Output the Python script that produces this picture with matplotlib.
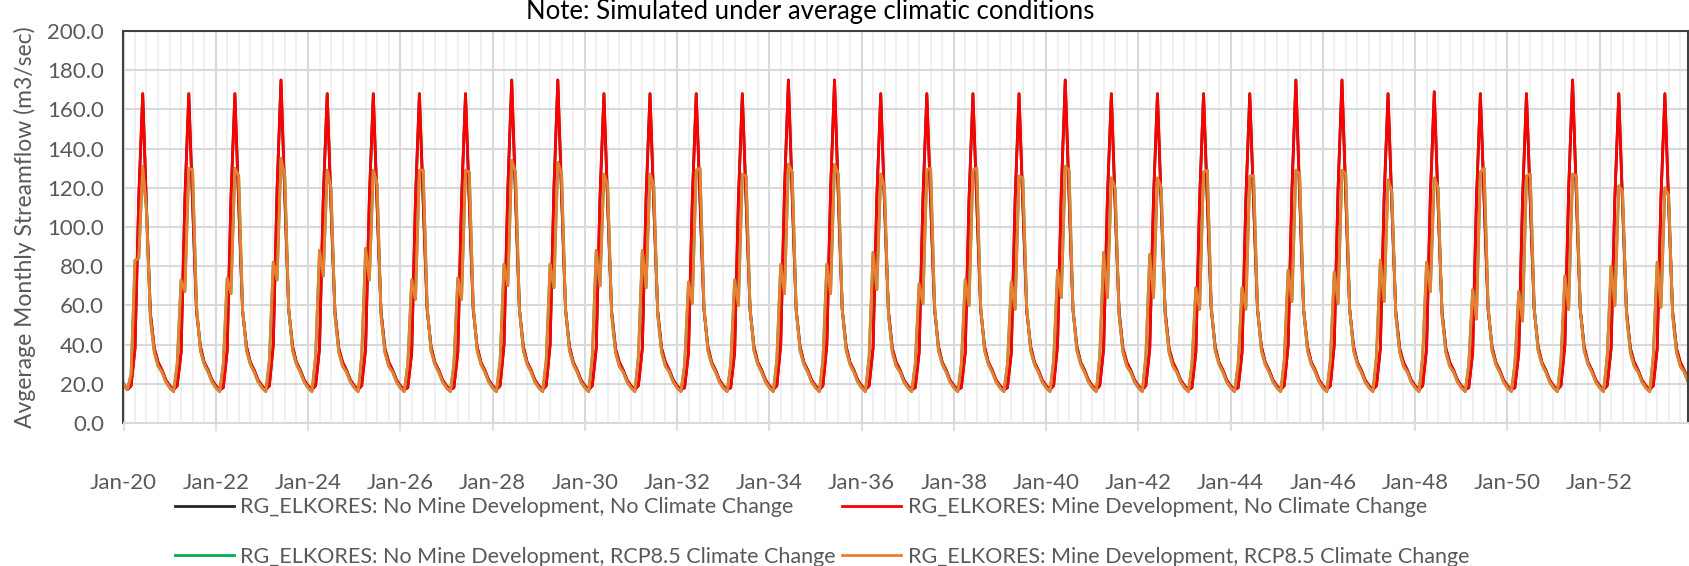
import numpy as np
import pandas as pd
import matplotlib
matplotlib.use("Agg")
import matplotlib.pyplot as plt
import matplotlib.dates as mdates
from matplotlib.ticker import FormatStrFormatter, MultipleLocator

plt.rcParams['font.family'] = ['Lato', 'DejaVu Sans']

# monthly streamflow (m3/sec), one row per year 2020-2053, Jan..Dec
years = list(range(2020, 2054))

mine_no_cc = [
    [20, 17, 19, 38, 115, 168, 110, 56, 38, 31, 27, 22],  # 2020
    [19, 17, 19, 36, 114, 168, 112, 57, 39, 31, 27, 22],  # 2021
    [19, 17, 18, 37, 115, 168, 112, 57, 39, 31, 27, 22],  # 2022
    [19, 17, 19, 40, 119, 175, 116, 58, 39, 31, 27, 22],  # 2023
    [19, 17, 19, 38, 115, 168, 111, 57, 38, 31, 27, 22],  # 2024
    [19, 17, 19, 38, 115, 168, 111, 57, 38, 31, 27, 22],  # 2025
    [19, 17, 18, 36, 114, 168, 113, 58, 39, 31, 27, 22],  # 2026
    [19, 17, 18, 36, 114, 168, 113, 58, 39, 31, 27, 22],  # 2027
    [19, 17, 19, 40, 119, 175, 116, 58, 39, 31, 27, 22],  # 2028
    [19, 17, 19, 40, 119, 175, 116, 58, 39, 31, 27, 22],  # 2029
    [19, 17, 19, 38, 115, 168, 111, 57, 38, 31, 27, 22],  # 2030
    [19, 17, 19, 38, 115, 168, 111, 57, 38, 31, 27, 22],  # 2031
    [19, 17, 18, 36, 114, 168, 113, 58, 39, 31, 27, 22],  # 2032
    [19, 17, 18, 36, 114, 168, 113, 58, 39, 31, 27, 22],  # 2033
    [19, 17, 19, 40, 119, 175, 116, 58, 39, 31, 27, 22],  # 2034
    [19, 17, 19, 40, 119, 175, 116, 58, 39, 31, 27, 22],  # 2035
    [19, 17, 19, 38, 115, 168, 111, 57, 38, 31, 27, 22],  # 2036
    [19, 17, 18, 36, 114, 168, 113, 58, 39, 31, 27, 22],  # 2037
    [19, 17, 18, 36, 114, 168, 113, 58, 39, 31, 27, 22],  # 2038
    [19, 17, 18, 36, 114, 168, 112, 57, 39, 31, 27, 22],  # 2039
    [19, 17, 19, 40, 119, 175, 116, 58, 39, 31, 27, 22],  # 2040
    [19, 17, 19, 38, 115, 168, 111, 57, 38, 31, 27, 22],  # 2041
    [19, 17, 19, 38, 115, 168, 111, 57, 38, 31, 27, 22],  # 2042
    [19, 17, 18, 36, 114, 168, 113, 58, 39, 31, 27, 22],  # 2043
    [19, 17, 18, 36, 114, 168, 113, 58, 39, 31, 27, 22],  # 2044
    [19, 17, 19, 40, 119, 175, 116, 58, 39, 31, 27, 22],  # 2045
    [19, 17, 19, 40, 119, 175, 116, 58, 39, 31, 27, 22],  # 2046
    [19, 17, 19, 38, 115, 168, 111, 57, 38, 31, 27, 22],  # 2047
    [19, 17, 19, 38, 116, 169, 112, 57, 38, 31, 27, 22],  # 2048
    [19, 17, 18, 36, 114, 168, 113, 58, 39, 31, 27, 22],  # 2049
    [19, 17, 18, 36, 114, 168, 113, 58, 39, 31, 27, 22],  # 2050
    [19, 17, 19, 40, 119, 175, 116, 58, 39, 31, 27, 22],  # 2051
    [19, 17, 19, 38, 115, 168, 111, 57, 38, 31, 27, 22],  # 2052
    [19, 17, 19, 38, 115, 168, 111, 57, 38, 31, 27, 22],  # 2053
]

mine_rcp85 = [
    [20, 17, 25, 83, 84, 131, 108, 53, 36, 29, 26, 21],  # 2020
    [18, 16, 30, 73, 67, 130, 129, 60, 37, 30, 26, 21],  # 2021
    [18, 16, 30, 74, 66, 130, 126, 58, 37, 30, 26, 21],  # 2022
    [18, 16, 32, 82, 73, 135, 126, 58, 37, 30, 26, 21],  # 2023
    [18, 16, 34, 88, 75, 129, 120, 55, 36, 29, 26, 21],  # 2024
    [18, 16, 34, 89, 73, 129, 122, 55, 36, 29, 26, 21],  # 2025
    [18, 16, 30, 73, 63, 129, 129, 60, 37, 30, 26, 21],  # 2026
    [18, 16, 30, 74, 63, 129, 128, 60, 37, 30, 26, 21],  # 2027
    [18, 16, 32, 81, 70, 134, 128, 58, 37, 30, 26, 21],  # 2028
    [18, 16, 32, 81, 69, 133, 127, 58, 37, 30, 26, 21],  # 2029
    [18, 16, 34, 88, 70, 127, 121, 55, 36, 29, 26, 21],  # 2030
    [18, 16, 34, 88, 69, 127, 121, 55, 36, 29, 26, 21],  # 2031
    [18, 16, 30, 72, 61, 129, 130, 60, 37, 30, 26, 21],  # 2032
    [18, 16, 30, 73, 60, 127, 126, 59, 37, 30, 26, 21],  # 2033
    [18, 16, 32, 81, 66, 132, 128, 58, 37, 30, 26, 21],  # 2034
    [18, 16, 32, 81, 66, 132, 127, 58, 37, 30, 26, 21],  # 2035
    [18, 16, 34, 87, 68, 127, 120, 55, 36, 29, 26, 21],  # 2036
    [18, 16, 30, 71, 61, 129, 130, 60, 37, 30, 26, 21],  # 2037
    [18, 16, 30, 73, 60, 129, 130, 60, 37, 30, 26, 21],  # 2038
    [18, 16, 30, 72, 58, 126, 125, 59, 37, 30, 26, 21],  # 2039
    [18, 16, 32, 78, 64, 131, 129, 58, 37, 30, 26, 21],  # 2040
    [18, 16, 34, 87, 64, 125, 120, 55, 36, 29, 26, 21],  # 2041
    [18, 16, 34, 86, 64, 125, 120, 55, 36, 29, 26, 21],  # 2042
    [18, 16, 30, 69, 58, 128, 129, 60, 37, 30, 26, 21],  # 2043
    [18, 16, 30, 69, 58, 126, 126, 59, 37, 30, 26, 21],  # 2044
    [18, 16, 32, 78, 62, 129, 127, 58, 37, 30, 26, 21],  # 2045
    [18, 16, 32, 77, 61, 129, 127, 58, 37, 30, 26, 21],  # 2046
    [18, 16, 34, 83, 62, 124, 118, 55, 36, 29, 26, 21],  # 2047
    [18, 16, 34, 82, 67, 125, 120, 55, 36, 29, 26, 21],  # 2048
    [18, 16, 30, 68, 53, 128, 130, 60, 37, 30, 26, 21],  # 2049
    [18, 16, 30, 67, 52, 126, 127, 59, 37, 30, 26, 21],  # 2050
    [18, 16, 32, 75, 58, 127, 126, 58, 37, 30, 26, 21],  # 2051
    [18, 16, 34, 80, 60, 121, 118, 55, 36, 29, 26, 21],  # 2052
    [18, 16, 34, 82, 59, 120, 116, 55, 36, 29, 26, 21],  # 2053
]

# the no-mine runs sit right underneath the mine runs in the picture
no_mine_no_cc = [row[:] for row in mine_no_cc]
no_mine_rcp85 = [row[:] for row in mine_rcp85]

labels = [
    "RG_ELKORES: No Mine Development, No Climate Change",
    "RG_ELKORES: Mine Development, No Climate Change",
    "RG_ELKORES: No Mine Development, RCP8.5 Climate Change",
    "RG_ELKORES: Mine Development, RCP8.5 Climate Change",
]
colors = ["#262626", "#ff0000", "#00b050", "#ed7d31"]

dates = pd.date_range(f"{years[0]}-01-01", periods=12 * len(years), freq="MS")

fig = plt.figure(figsize=(16.9, 5.66), dpi=100)
ax = fig.add_axes([123.5 / 1690, 143 / 566, (1688 - 123.5) / 1690, 392 / 566])

series = [no_mine_no_cc, mine_no_cc, no_mine_rcp85, mine_rcp85]
lines = []
for data, c, lab in zip(series, colors, labels):
    ln, = ax.plot(dates, np.array(data).ravel(), color=c, lw=2.0, label=lab,
                  solid_joinstyle='round')
    lines.append(ln)

ax.set_xlim(dates[0], dates[-1])
ax.set_ylim(0, 200)
ax.yaxis.set_major_locator(MultipleLocator(20))
ax.yaxis.set_major_formatter(FormatStrFormatter('%.1f'))

ax.xaxis.set_major_locator(mdates.YearLocator(base=2, month=1, day=1))
ax.xaxis.set_major_formatter(mdates.DateFormatter('%b-%y'))
ax.xaxis.set_minor_locator(mdates.MonthLocator(bymonth=[1, 4, 7, 10]))

grid_major = '#d9d9d9'
grid_minor = '#f0f0f0'
ax.grid(which='minor', axis='x', color=grid_minor, lw=1.5)
ax.grid(which='major', axis='x', color=grid_major, lw=1.5)
ax.grid(which='major', axis='y', color=grid_major, lw=1.5)
ax.set_axisbelow(True)

txt_col = '#595959'
ax.tick_params(axis='x', which='major', length=6, width=1.2, color=grid_major,
               labelsize=16, labelcolor=txt_col, pad=30)
ax.tick_params(axis='x', which='minor', length=0)
ax.tick_params(axis='y', length=0, labelsize=16, labelcolor=txt_col, pad=14)

for side in ['left', 'top', 'right']:
    ax.spines[side].set_color('#404040')
    ax.spines[side].set_linewidth(1.5)
ax.spines['bottom'].set_color(grid_major)
ax.spines['bottom'].set_linewidth(1.5)

ax.set_ylabel("Avgerage Monthly Streamflow (m3/sec)", fontsize=16.5,
              color=txt_col, labelpad=8)

fig.text(810 / 1690, 1 - 11 / 566, "Note: Simulated under average climatic conditions",
         ha='center', va='center', fontsize=18.5, color='black')

# row-major order for the 2x2 legend
order = [0, 2, 1, 3]
fig.legend([lines[i] for i in order], [labels[i] for i in order],
           ncol=2, loc='center', bbox_to_anchor=(822 / 1690, 1 - 532 / 566),
           frameon=False, fontsize=15.5, labelcolor=txt_col,
           handlelength=2.75, handletextpad=0.3, columnspacing=0.3,
           labelspacing=1.35, borderpad=0)

fig.savefig("out.png", dpi=100)
